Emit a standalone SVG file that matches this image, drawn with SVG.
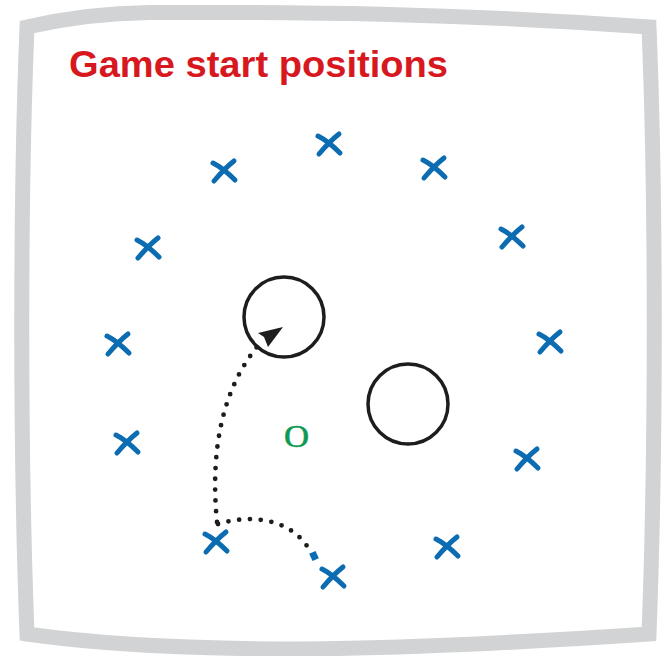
<svg xmlns="http://www.w3.org/2000/svg" xmlns:xlink="http://www.w3.org/1999/xlink" width="667" height="656" viewBox="0 0 667 656">
<style>
.frame{fill:#fff;stroke:#d1d3d4;stroke-width:15;stroke-linejoin:miter}
.title{font-family:"Liberation Sans",Arial,sans-serif;font-weight:bold;font-size:36px;fill:#d7191f}
.xm{fill:none;stroke:#0b6cb1;stroke-width:5;stroke-linecap:round}
.ring{fill:none;stroke:#1d1d1b;stroke-width:3.5}
.dots{fill:none;stroke:#1d1d1b;stroke-width:4.8;stroke-linecap:round;stroke-dasharray:0 10.8}
.o{font-family:"Liberation Serif","Times New Roman",serif;font-size:31px;fill:#0d9a52;stroke:#0d9a52;stroke-width:0.6;text-anchor:middle}
</style>
<defs>
<path id="xmark" d="M-11,-8 Q-1,-3 11,9 M10,-10 Q1,-3 -10,10"/>
</defs>
<path class="frame" d="M27,27 C70,17 110,13 150,12.5 C300,12 450,13 649,27 C656,200 656,450 649,634 C560,640 420,648 300,649 C180,649 90,643 27,634 C20,450 20,200 27,27 Z"/>
<text class="title" x="69" y="77" textLength="379" lengthAdjust="spacingAndGlyphs">Game start positions</text>
<g id="players">
<g id="p1"><use xlink:href="#xmark" class="xm" x="329" y="144"/></g>
<g id="p2"><use xlink:href="#xmark" class="xm" x="224" y="171"/></g>
<g id="p3"><use xlink:href="#xmark" class="xm" x="434" y="168"/></g>
<g id="p4"><use xlink:href="#xmark" class="xm" x="148" y="248"/></g>
<g id="p5"><use xlink:href="#xmark" class="xm" x="512" y="237"/></g>
<g id="p6"><use xlink:href="#xmark" class="xm" x="118" y="344"/></g>
<g id="p7"><use xlink:href="#xmark" class="xm" x="550" y="342"/></g>
<g id="p8"><use xlink:href="#xmark" class="xm" x="127" y="443"/></g>
<g id="p9"><use xlink:href="#xmark" class="xm" x="527" y="459"/></g>
<g id="p10"><use xlink:href="#xmark" class="xm" x="216" y="542"/></g>
<g id="p11"><use xlink:href="#xmark" class="xm" x="447" y="547"/></g>
<g id="p12"><use xlink:href="#xmark" class="xm" x="333" y="577"/></g>
</g>
<g id="circle1"><circle class="ring" cx="284" cy="317" r="40"/></g>
<g id="circle2"><circle class="ring" cx="408" cy="404" r="40"/></g>
<g id="ball"><text class="o" transform="translate(296.5,446.5) scale(1.12,1)">O</text></g>
<g id="connectors">
<path class="dots" d="M217,522 C210,450 222,385 263,340"/>
<path d="M283,327 L258,333 L264,337 L268,347 Z" fill="#1d1d1b"/>
<path class="dots" d="M218,524 C250,514 290,518 309,549"/>
<rect x="-3.5" y="-4" width="7" height="8" fill="#0b6cb1" transform="translate(314,556) rotate(-25)"/>
</g>
</svg>
